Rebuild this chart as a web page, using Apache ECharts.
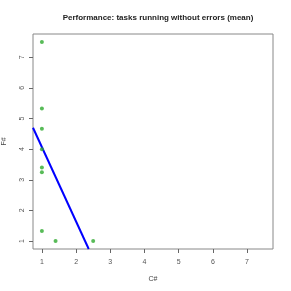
<!DOCTYPE html>
<html><head><meta charset="utf-8">
<script src="https://cdn.jsdelivr.net/npm/echarts@6/dist/echarts.min.js"></script>
<style>html,body{margin:0;padding:0;background:#fff}#c{width:291px;height:291px}</style>
</head><body><div id="c"></div>
<script>
var titleText = 'Performance: tasks running without errors (mean)';
var xName = 'C#';
var yName = 'F#';
var tickValues = [1, 2, 3, 4, 5, 6, 7];
var pointsX = [1, 1, 1, 1, 1, 1, 1, 1.4, 2.5];
var pointsY = [7.5, 5.33, 4.67, 4.0, 3.4, 3.25, 1.33, 1.0, 1.0];
var fitX = [0.74, 2.37];
var fitY = [4.70, 0.74];
var axisMin = 0.74, axisMax = 7.76;

var pts = pointsX.map(function (x, i) { return [x, pointsY[i]]; });
var fit = fitX.map(function (x, i) { return [x, fitY[i]]; });

var chart = echarts.init(document.getElementById('c'), null, {renderer: 'canvas'});
var axisCommon = {
  type: 'value', min: axisMin, max: axisMax,
  axisLine: {show: false},
  splitLine: {show: false},
  axisTick: {show: true, length: 4, inside: false, customValues: tickValues, lineStyle: {color: '#666', width: 1}},
  axisLabel: {customValues: tickValues, color: '#555', fontSize: 7, fontFamily: 'Liberation Sans, Arial, sans-serif'},
  nameLocation: 'middle',
  nameTextStyle: {color: '#444', fontSize: 7, fontFamily: 'Liberation Sans, Arial, sans-serif'}
};
chart.setOption({
  animation: false,
  title: {text: titleText, left: 153, top: 9, textAlign: 'center',
    textStyle: {fontSize: 8, fontWeight: 'bold', color: '#222', fontFamily: 'Liberation Sans, Arial, sans-serif'}},
  grid: {left: 33, right: 18, top: 34, bottom: 42, show: true, borderColor: '#888', borderWidth: 1,
    containLabel: false, outerBoundsMode: 'none'},
  xAxis: Object.assign({}, axisCommon, {name: xName, nameGap: 27,
    axisLabel: Object.assign({}, axisCommon.axisLabel, {margin: 10})}),
  yAxis: Object.assign({}, axisCommon, {name: yName, nameGap: 25, nameRotate: 90,
    axisLabel: Object.assign({}, axisCommon.axisLabel, {rotate: 90, margin: 7})}),
  series: [
    {type: 'line', data: fit, symbol: 'none', lineStyle: {color: '#0000ff', width: 2}, z: 2},
    {type: 'scatter', data: pts, symbolSize: 4, itemStyle: {color: '#2eaa2e'}, z: 3}
  ]
});
</script></body></html>
